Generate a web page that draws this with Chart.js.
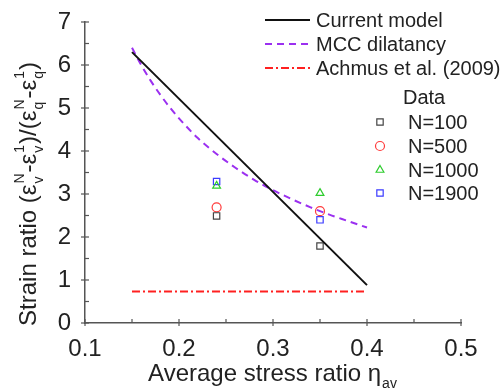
<!DOCTYPE html>
<html>
<head>
<meta charset="utf-8">
<script src="https://cdn.jsdelivr.net/npm/chart.js@4/dist/chart.umd.min.js"></script>
<style>
  body { margin: 0; background: #fff; }
  #c { display: block; }
</style>
</head>
<body>
<canvas id="c" width="503" height="391"></canvas>
<script>
// values
let modelX = [0.15, 0.4];
let modelY = [6.3, 0.88];

let mccX = [0.15, 0.16, 0.17, 0.18, 0.19, 0.2, 0.22, 0.24, 0.26, 0.28, 0.3, 0.32, 0.34, 0.36, 0.38, 0.4];
let mccY = [6.4, 5.99, 5.63, 5.31, 5.02, 4.76, 4.30, 3.93, 3.61, 3.33, 3.09, 2.88, 2.69, 2.52, 2.37, 2.22];

let achmusX = [0.15, 0.4];
let achmusY = [0.73, 0.73];

let testX = [0.24, 0.35];
let n100 = [2.49, 1.79];
let n500 = [2.69, 2.6];
let n1000 = [3.19, 3.02];
let n1900 = [3.29, 2.4];

let xTicks = [0.1, 0.2, 0.3, 0.4, 0.5];
let yTicks = [0, 1, 2, 3, 4, 5, 6, 7];

const FONT = "'Liberation Sans', Arial, sans-serif";

function pts(xs, ys) {
    return xs.map((x, i) => ({ x: x, y: ys[i] }));
}

function markerSet(label, ys, color, style) {
    return {
        label: label, data: pts(testX, ys), showLine: false,
        pointStyle: style, pointRadius: 4.5, borderColor: color,
        backgroundColor: "rgba(0,0,0,0)", borderWidth: 1.2
    };
}

// rich text: segments [text] plain, or [sub, sup] stacked script pair
function richText(ctx, segs, x, y, size, draw) {
    let small = Math.round(size * 0.6);
    segs.forEach(s => {
        if (s.length === 1) {
            ctx.font = size + "px " + FONT;
            if (draw) ctx.fillText(s[0], x, y);
            x += ctx.measureText(s[0]).width;
        } else {
            ctx.font = small + "px " + FONT;
            let w = Math.max(ctx.measureText(s[0]).width, ctx.measureText(s[1]).width);
            if (draw) {
                if (s[0]) ctx.fillText(s[0], x + 1, y + size * 0.28);
                if (s[1]) ctx.fillText(s[1], x + 1, y - size * 0.5);
            }
            x += w + 2;
        }
    });
    return x;
}

const decorations = {
    id: "decorations",
    afterDraw(chart) {
        let ctx = chart.ctx;
        let xs = chart.scales.x, ys = chart.scales.y;
        let a = chart.chartArea;
        ctx.save();

        // ticks
        ctx.strokeStyle = "#555";
        ctx.lineWidth = 1.2;
        for (let v = 0.1; v <= 0.5001; v += 0.05) {
            let px = xs.getPixelForValue(v);
            let major = Math.abs(v * 10 - Math.round(v * 10)) < 0.01;
            ctx.beginPath();
            ctx.moveTo(px, a.bottom - 4);
            ctx.lineTo(px, a.bottom + (major ? 3 : 0));
            ctx.stroke();
        }
        for (let v = 0; v <= 7.001; v += 0.5) {
            let py = ys.getPixelForValue(v);
            let major = Math.abs(v - Math.round(v)) < 0.01;
            ctx.beginPath();
            ctx.moveTo(a.left - (major ? 4 : 0), py);
            ctx.lineTo(a.left + 4, py);
            ctx.stroke();
        }

        ctx.fillStyle = "#222";
        ctx.textBaseline = "alphabetic";

        // x title
        let xt = [["Average stress ratio \u03b7"], ["av", ""]];
        let xw = richText(ctx, xt, 0, 0, 24, false);
        richText(ctx, xt, (a.left + a.right) / 2 - xw / 2, 381, 24, true);

        // y title rotated
        let yt = [["Strain ratio (\u03b5"], ["v", "N"], ["-\u03b5"], ["v", "1"],
                  [")/(\u03b5"], ["q", "N"], ["-\u03b5"], ["q", "1"], [")"]];
        let yw = richText(ctx, yt, 0, 0, 24, false);
        ctx.save();
        ctx.translate(36, 194);
        ctx.rotate(-Math.PI / 2);
        richText(ctx, yt, -yw / 2, 0, 24, true);
        ctx.restore();

        // legend: lines
        let rows = [
            ["Current model", "#111", [], 27],
            ["MCC dilatancy", "#9b30f0", [7, 5], 51],
            ["Achmus et al. (2009)", "#ff2020", [8, 3, 2, 3], 75]
        ];
        ctx.font = "20px " + FONT;
        rows.forEach(r => {
            ctx.strokeStyle = r[1];
            ctx.lineWidth = 2;
            ctx.setLineDash(r[2]);
            ctx.beginPath();
            ctx.moveTo(265, r[3] - 7);
            ctx.lineTo(310, r[3] - 7);
            ctx.stroke();
            ctx.setLineDash([]);
            ctx.fillStyle = "#222";
            ctx.fillText(r[0], 316, r[3]);
        });

        // legend: markers
        ctx.fillText("Data", 403, 104);
        let marks = [
            ["N=100", "#444", "rect", 129],
            ["N=500", "#ff3b3b", "circle", 153],
            ["N=1000", "#2ecc2e", "triangle", 177],
            ["N=1900", "#3b3bff", "rect", 200]
        ];
        marks.forEach(m => {
            ctx.strokeStyle = m[1];
            ctx.fillStyle = "rgba(0,0,0,0)";
            ctx.lineWidth = 1.2;
            Chart.helpers.drawPoint(ctx, { pointStyle: m[2], radius: 4.5, borderWidth: 1.2 }, 380, m[3] - 7);
            ctx.fillStyle = "#222";
            ctx.font = "20px " + FONT;
            ctx.fillText(m[0], 408, m[3]);
        });

        ctx.restore();
    }
};

new Chart(document.getElementById("c"), {
    type: "scatter",
    data: {
        datasets: [
            { label: "Current model", data: pts(modelX, modelY), showLine: true, borderColor: "#111", borderWidth: 2, pointRadius: 0 },
            { label: "MCC dilatancy", data: pts(mccX, mccY), showLine: true, borderColor: "#9b30f0", borderWidth: 2, borderDash: [7, 5], pointRadius: 0, cubicInterpolationMode: "monotone" },
            { label: "Achmus et al. (2009)", data: pts(achmusX, achmusY), showLine: true, borderColor: "#ff2020", borderWidth: 2, borderDash: [8, 3, 2, 3], pointRadius: 0 },
            markerSet("N=100", n100, "#444", "rect"),
            markerSet("N=500", n500, "#ff3b3b", "circle"),
            markerSet("N=1000", n1000, "#2ecc2e", "triangle"),
            markerSet("N=1900", n1900, "#3b3bff", "rect")
        ]
    },
    options: {
        responsive: false,
        animation: false,
        layout: { padding: { left: 0, top: 22, right: 42, bottom: 0 } },
        plugins: { legend: { display: false }, tooltip: { enabled: false } },
        scales: {
            x: {
                type: "linear", min: 0.1, max: 0.5,
                afterBuildTicks: s => { s.ticks = xTicks.map(v => ({ value: v })); },
                afterFit: s => { s.height = 68; },
                grid: { display: false },
                border: { display: true, color: "#555", width: 1.5 },
                ticks: { color: "#222", font: { family: FONT, size: 24 }, padding: 4, maxRotation: 0,
                         callback: v => v.toFixed(1) }
            },
            y: {
                type: "linear", min: 0, max: 7,
                afterBuildTicks: s => { s.ticks = yTicks.map(v => ({ value: v })); },
                afterFit: s => { s.width = 85; },
                grid: { display: false },
                border: { display: true, color: "#555", width: 1.5 },
                ticks: { color: "#222", font: { family: FONT, size: 24 }, padding: 6 }
            }
        }
    },
    plugins: [decorations]
});
</script>
</body>
</html>
